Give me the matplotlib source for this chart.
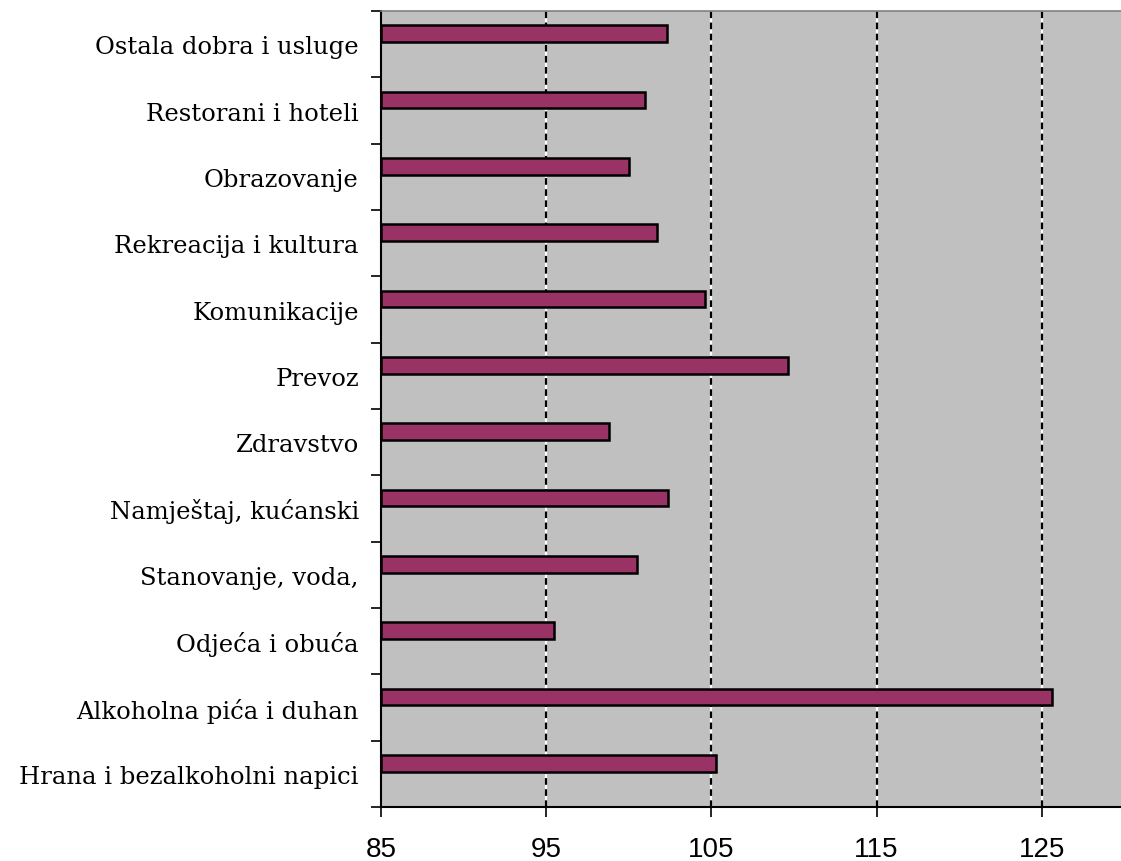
import matplotlib
matplotlib.use("Agg")
import matplotlib.pyplot as plt
import numpy as np

categories = [
    "Hrana i bezalkoholni napici",
    "Alkoholna pića i duhan",
    "Odjeća i obuća",
    "Stanovanje, voda,",
    "Namještaj, kućanski",
    "Zdravstvo",
    "Prevoz",
    "Komunikacije",
    "Rekreacija i kultura",
    "Obrazovanje",
    "Restorani i hoteli",
    "Ostala dobra i usluge",
]
values = [105.3, 125.6, 95.45, 100.5, 102.4, 98.8, 109.65, 104.6, 101.7, 100.0, 101.0, 102.3]
xticks = [85, 95, 105, 115, 125]

fig = plt.figure(figsize=(11.21, 8.62), dpi=100)
ax = fig.add_axes([381/1121, 1 - 808/862, 1 - 381/1121, (808 - 12)/862])
ax.set_facecolor("#c0c0c0")

y = np.arange(len(categories))
base = 85
ax.barh(y + 0.16, [v - base for v in values], left=base, height=0.25,
        color="#993366", edgecolor="black", linewidth=1.8, zorder=3)

ax.set_xlim(85, 129.8)
ax.set_ylim(-0.5, len(categories) - 0.5)

for xv in xticks[1:]:
    ax.axvline(xv, color="white", linewidth=1.6, zorder=1)
    ax.axvline(xv, color="black", linewidth=1.6, linestyle=(0, (3, 2)), zorder=2)

ax.set_xticks(xticks)
ax.set_xticklabels([str(t) for t in xticks], fontfamily="Liberation Sans", fontsize=20)
ax.tick_params(axis="x", direction="out", length=7, width=1.2, pad=14, color="black")

ax.set_yticks(y)
ax.set_yticklabels(categories, fontfamily="DejaVu Serif", fontsize=17.5)
ax.tick_params(axis="y", which="major", length=0, pad=16)
ax.set_yticks(np.arange(-0.5, len(categories)), minor=True)
ax.tick_params(axis="y", which="minor", direction="out", length=7, width=1.2, color="black")

ax.spines["left"].set_linewidth(1.5)
ax.spines["bottom"].set_linewidth(1.5)
ax.spines["top"].set_color("#808080")
ax.spines["top"].set_linewidth(1.2)
ax.spines["right"].set_visible(False)

fig.savefig("out.png", dpi=100)
